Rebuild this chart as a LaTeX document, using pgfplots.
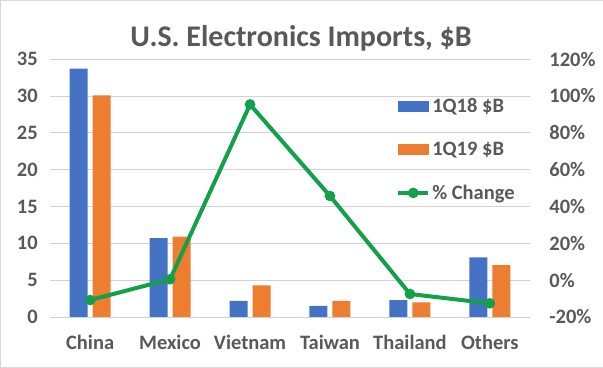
\documentclass[border=0pt]{standalone}
\usepackage{pgfplots}
\pgfplotsset{compat=1.18}
\usepackage{fontspec}
\setmainfont{Carlito}
\definecolor{xblue}{HTML}{4472C4}
\definecolor{xorange}{HTML}{ED7D31}
\definecolor{xgreen}{HTML}{13A04A}
\definecolor{txtgray}{HTML}{595959}
\begin{document}
\begin{tikzpicture}[x=1pt,y=1pt]
\path[use as bounding box, draw=gray!30, fill=white] (0,0) rectangle (603,367);
\node[font=\bfseries\fontsize{30}{30}\selectfont, text=txtgray] at (301,329) {U.S. Electronics Imports, \$B};
\begin{axis}[at={(50pt,50pt)}, anchor=south west, scale only axis,
  width=480pt, height=258pt,
  xmin=-0.5, xmax=5.5, ymin=0, ymax=35,
  xtick={0,...,5}, xticklabels={China,Mexico,Vietnam,Taiwan,Thailand,Others},
  ytick={0,5,...,35},
  /pgf/number format/assume math mode=true,
  ymajorgrids, grid style={gray!35, line width=0.8pt},
  axis line style={draw=none}, major tick length=0pt,
  tick label style={font=\bfseries\fontsize{20.5}{20.5}\selectfont, text=txtgray},
  yticklabel style={xshift=-9pt},
  xticklabel style={yshift=-15pt},
  clip=false]
\addplot[ybar, bar width=18pt, bar shift=-11.5pt, fill=xblue, draw=none] coordinates {(0,33.7) (1,10.7) (2,2.2) (3,1.5) (4,2.3) (5,8.1)};
\addplot[ybar, bar width=18pt, bar shift=11.5pt, fill=xorange, draw=none] coordinates {(0,30.1) (1,10.9) (2,4.3) (3,2.2) (4,2.0) (5,7.05)};
\end{axis}
\begin{axis}[at={(50pt,50pt)}, anchor=south west, scale only axis,
  width=480pt, height=258pt,
  xmin=-0.5, xmax=5.5, ymin=-20, ymax=120,
  hide x axis, axis y line*=right,
  ytick={-20,0,...,120},
  /pgf/number format/assume math mode=true,
  yticklabel={\pgfmathprintnumber{\tick}\%},
  axis line style={draw=none}, major tick length=0pt,
  tick label style={font=\bfseries\fontsize{20.5}{20.5}\selectfont, text=txtgray},
  yticklabel style={xshift=16pt},
  legend style={at={(0.715,0.864)}, anchor=north west, draw=none, fill=none,
    font=\bfseries\fontsize{20.5}{20.5}\selectfont, text=txtgray, row sep=24pt},
  legend cell align=left,
  clip=false]
\addlegendimage{legend image code/.code={\fill[xblue] (0pt,-5pt) rectangle (30pt,5pt);}}
\addlegendentry{1Q18 \$B}
\addlegendimage{legend image code/.code={\fill[xorange] (0pt,-5pt) rectangle (30pt,5pt);}}
\addlegendentry{1Q19 \$B}
\addplot[xgreen, line width=4pt, mark=*, mark size=3.2pt, mark options={fill=xgreen},
  legend image code/.code={\draw[xgreen, line width=4pt] (0pt,0pt) -- (30pt,0pt); \fill[xgreen] (15pt,0pt) circle (3.2pt);}]
  coordinates {(0,-10.8) (1,0.5) (2,95.4) (3,45.7) (4,-7.5) (5,-12.6)};
\addlegendentry{\% Change}
\end{axis}
\end{tikzpicture}
\end{document}
